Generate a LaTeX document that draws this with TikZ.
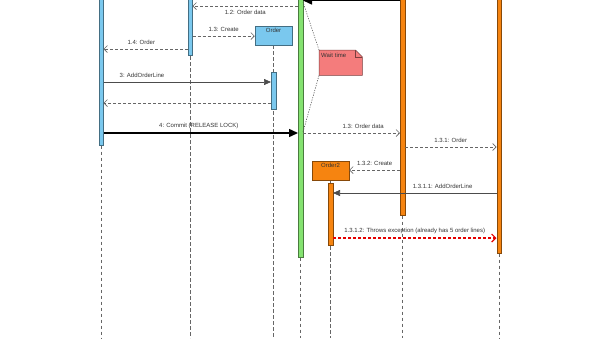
\documentclass[tikz,border=0pt]{standalone}
\usepackage{fontspec}
\setmainfont{Liberation Sans}
\usetikzlibrary{arrows.meta,backgrounds}
\definecolor{barblue}{RGB}{122,200,238}
\definecolor{bargreen}{RGB}{132,226,112}
\definecolor{barorange}{RGB}{246,132,16}
\definecolor{notered}{RGB}{244,124,124}
\begin{document}
\begin{tikzpicture}[x=1pt,y=-1pt,
    font=\fontsize{6}{7}\selectfont,
    lifeline/.style={draw=black!60, line width=0.6pt, dash pattern=on 3.5pt off 2.5pt},
    actbar/.style={draw=#1!55!black, fill=#1, line width=0.5pt, minimum width=4.5pt, inner sep=0pt, anchor=north},
    objbox/.style={draw=#1!55!black, fill=#1, line width=0.5pt, minimum width=37pt, minimum height=19pt, inner sep=2pt, text height=4.3pt, text depth=11pt, text=black!80},
    msglabel/.style={inner sep=1pt, text height=4.5pt, text depth=1.5pt, text=black!80},
    callmsg/.style={draw=black!70, line width=0.7pt, -{Triangle[length=7pt,width=6pt]}},
    retmsg/.style={draw=black!60, line width=0.7pt, dash pattern=on 3pt off 2pt, -{Straight Barb[length=3.5pt,width=7pt]}},
    lockmsg/.style={draw=black, line width=1.5pt, -{Triangle[length=9pt,width=8pt]}},
    errmsg/.style={draw=red!90!black, line width=1.2pt, dash pattern=on 3pt off 2pt, -{Straight Barb[length=4pt,width=8pt]}},
    notelink/.style={draw=black!65, line width=0.6pt, dash pattern=on 1.2pt off 1.3pt}]
  \useasboundingbox (0,0) rectangle (600,338);
  \clip (0,0) rectangle (600,338);

  % objects and activation bars
  \node[actbar=barblue, minimum height=155pt] (clientbar) at (101,-10) {};
  \node[actbar=barblue, minimum height=65pt] (servicebar) at (190,-10) {};
  \node[objbox=barblue] (orderbox) at (273.5,35.5) {Order};
  \node[actbar=barblue, minimum height=37pt] (orderbar) at (273.5,72) {};
  \node[actbar=bargreen, minimum height=267pt] (lockbar) at (300.5,-10) {};
  \node[actbar=barorange, minimum height=225pt] (repobar) at (402.5,-10) {};
  \node[actbar=barorange, minimum height=263pt] (storebar) at (499,-10) {};
  \node[objbox=barorange] (ordertwobox) at (330.5,170.5) {Order2};
  \node[actbar=barorange, minimum height=62pt] (ordertwobar) at (330.5,183) {};

  % note
  \node[anchor=north west, text width=39pt, align=left, inner xsep=2pt, inner ysep=3pt,
        minimum height=25pt, text height=4.3pt, text depth=14.7pt, text=black!80] (waitnote) at (319,50) {Wait time};

  \begin{scope}[on background layer]
    \draw[lifeline] (clientbar.south) -- (clientbar.south |- 0,338);
    \draw[lifeline] (servicebar.north) -- (servicebar.north |- 0,338);
    \draw[lifeline] (orderbox.south) -- (orderbox.south |- 0,338);
    \draw[lifeline] (lockbar.south) -- (lockbar.south |- 0,338);
    \draw[lifeline] (repobar.south) -- (repobar.south |- 0,338);
    \draw[lifeline] (storebar.south) -- (storebar.south |- 0,338);
    \draw[lifeline] (ordertwobox.south) -- (ordertwobox.south |- 0,338);
    \filldraw[fill=notered, draw=notered!50!black, line width=0.5pt]
      (waitnote.north west) -- ([xshift=-7pt]waitnote.north east) -- ([yshift=-7pt]waitnote.north east)
      -- (waitnote.south east) -- (waitnote.south west) -- cycle;
    \draw[draw=notered!50!black, line width=0.5pt]
      ([xshift=-7pt]waitnote.north east) -- ([xshift=-7pt,yshift=-7pt]waitnote.north east) -- ([yshift=-7pt]waitnote.north east);
  \end{scope}
  \draw[notelink] (waitnote.north west) -- (lockbar.east |- 0,2);
  \draw[notelink] (waitnote.south west) -- (lockbar.east |- 0,132);

  % messages
  \draw[lockmsg] (repobar.west |- 0,0.5) -- (lockbar.east |- 0,0.5);
  \draw[retmsg] (lockbar.west |- 0,6) -- node[msglabel, below=3pt] (lbldata) {1.2: Order data} (servicebar.east |- 0,6);
  \draw[retmsg] (servicebar.east |- 0,36) -- node[msglabel, above=2pt] (lblcreate) {1.3: Create} (orderbox.west |- 0,36);
  \draw[retmsg] (servicebar.west |- 0,49) -- node[msglabel, above=2pt, pos=0.55] (lblorder) {1.4: Order} (clientbar.east |- 0,49);
  \draw[callmsg] (clientbar.east |- 0,82) -- node[msglabel, above=2pt, pos=0.23] (lbladd) {3: AddOrderLine} (orderbar.west |- 0,82);
  \draw[retmsg] (orderbar.west |- 0,103) -- (clientbar.east |- 0,103);
  \draw[lockmsg] (clientbar.east |- 0,133) -- node[msglabel, above=2pt, pos=0.49] (lblcommit) {4: Commit (RELEASE LOCK)} (lockbar.west |- 0,133);
  \draw[retmsg] (lockbar.east |- 0,133) -- node[msglabel, above=2pt, pos=0.62] (lbldatatwo) {1.3: Order data} (repobar.west |- 0,133);
  \draw[retmsg] (repobar.east |- 0,147) -- node[msglabel, above=2pt] (lblordertwo) {1.3.1: Order} (storebar.west |- 0,147);
  \draw[retmsg] (repobar.west |- 0,170) -- node[msglabel, above=2pt] (lblcreatetwo) {1.3.2: Create} (ordertwobox.east |- 0,170);
  \draw[callmsg] (storebar.west |- 0,193) -- node[msglabel, above=2pt, pos=0.33] (lbladdtwo) {1.3.1.1: AddOrderLine} (ordertwobar.east |- 0,193);
  \draw[errmsg] (ordertwobar.east |- 0,238) -- node[msglabel, above=2pt] (lblthrow) {1.3.1.2: Throws exception (already has 5 order lines)} (storebar.west |- 0,238);
\end{tikzpicture}
\end{document}
